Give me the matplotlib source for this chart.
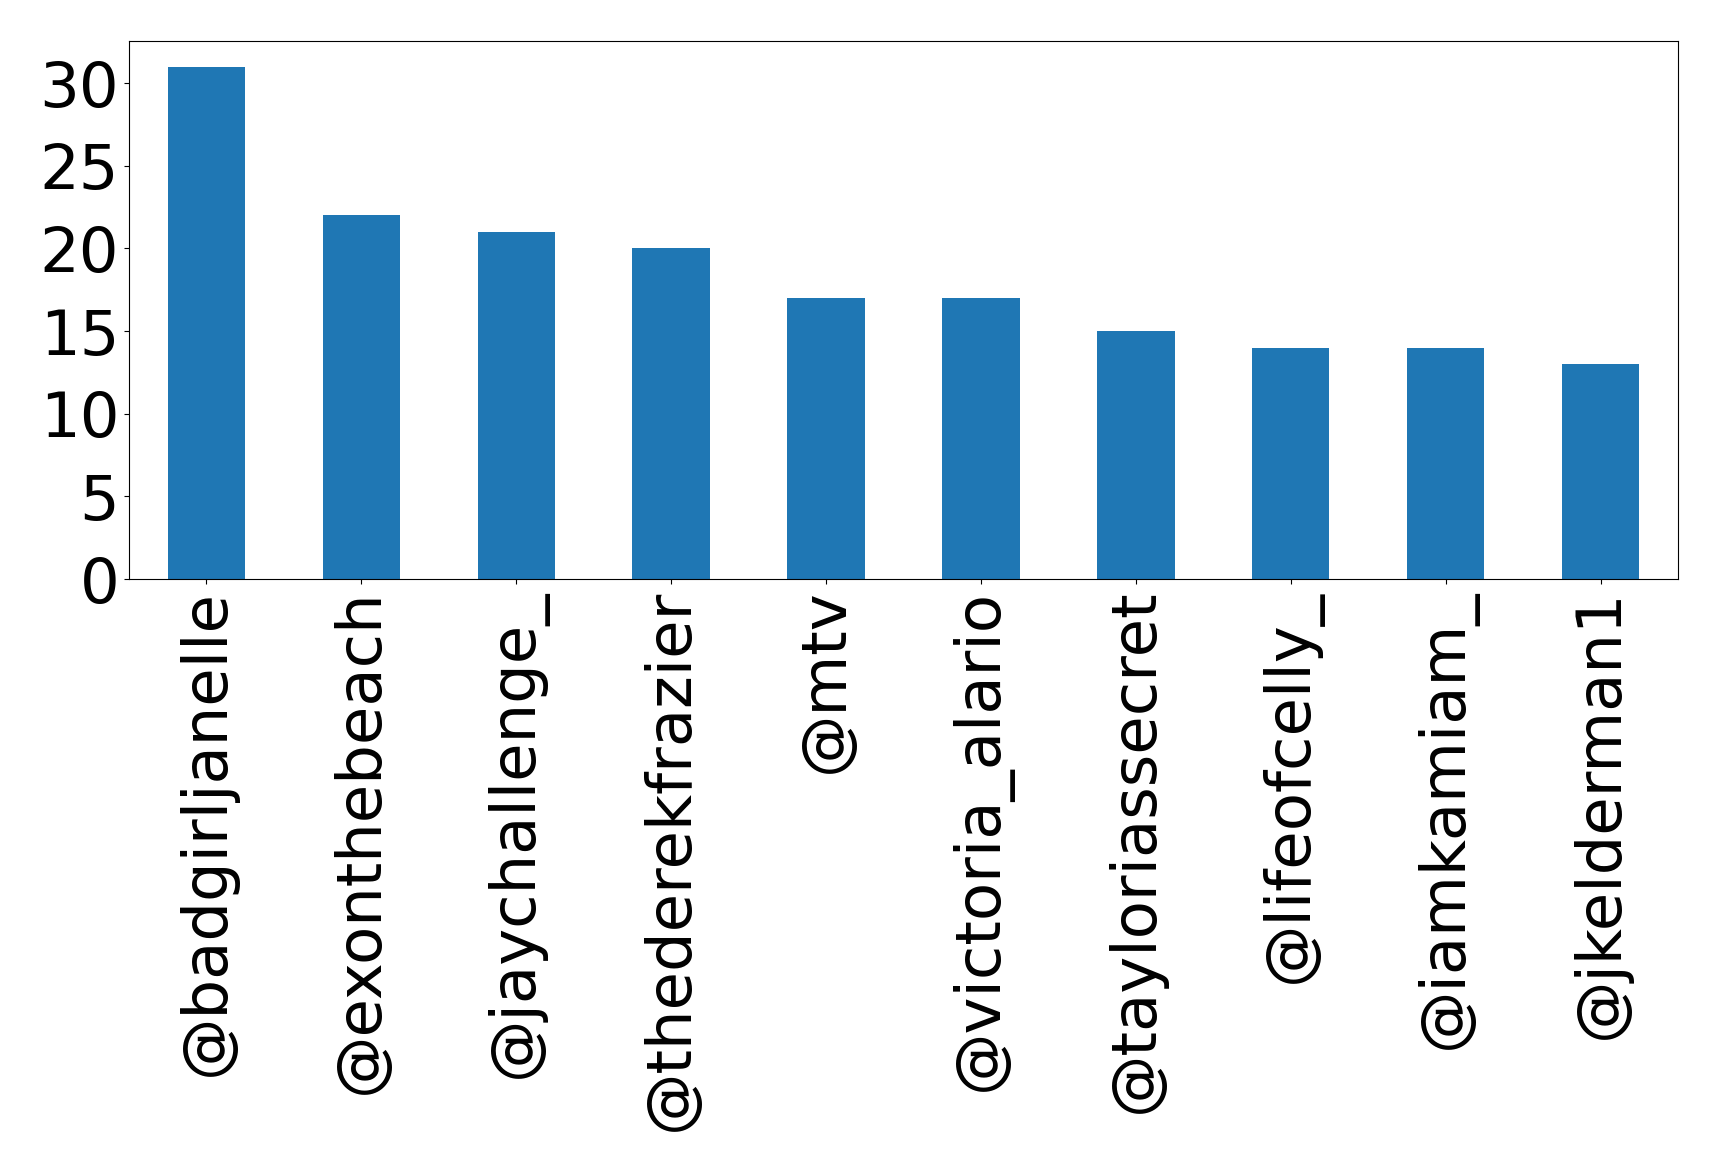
import matplotlib
matplotlib.use("Agg")
import matplotlib.pyplot as plt

users = ["@badgirljanelle", "@exonthebeach", "@jaychallenge_", "@thederekfrazier",
         "@mtv", "@victoria_alario", "@tayloriassecret", "@lifeofcelly_",
         "@iamkamiam_", "@jkelderman1"]
counts = [31, 22, 21, 20, 17, 17, 15, 14, 14, 13]

fig = plt.figure(figsize=(17.19, 11.71), dpi=100)
ax = fig.add_axes([129 / 1719, 1 - 579 / 1171, (1678 - 129) / 1719, (579 - 41) / 1171])

x = range(len(users))
ax.bar(x, counts, width=0.5, color="#1f77b4")
ax.set_xlim(-0.5, len(users) - 0.5)
ax.set_ylim(0, 32.55)
ax.set_yticks(range(0, 31, 5))
ax.set_xticks(list(x))
ax.set_xticklabels(users, rotation=90)
ax.tick_params(axis="both", labelsize=45)

fig.savefig("out.png", dpi=100)
